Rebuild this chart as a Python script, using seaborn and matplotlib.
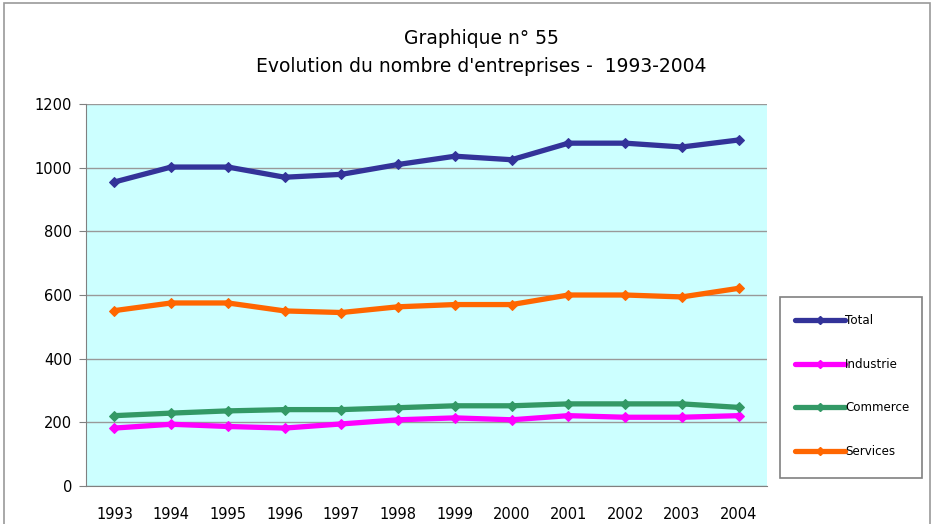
import seaborn as sns
from matplotlib import pyplot as plt
from matplotlib.patches import Rectangle
import numpy as np
import pandas as pd

years = [1993, 1994, 1995, 1996, 1997, 1998, 1999, 2000, 2001, 2002, 2003, 2004]
total = [955, 1002, 1002, 970, 979, 1010, 1036, 1025, 1077, 1077, 1065, 1087]
industrie = [182, 194, 187, 182, 195, 208, 214, 208, 221, 216, 216, 221]
commerce = [221, 229, 236, 240, 240, 246, 252, 252, 258, 258, 258, 247]
services = [551, 575, 575, 550, 545, 563, 570, 570, 600, 600, 594, 621]

series = ['Total', 'Industrie', 'Commerce', 'Services']
colors = ['#333399', '#FF00FF', '#339966', '#FF6600']

df = pd.DataFrame({'pos': list(range(len(years))) * 4,
                   'valeur': total + industrie + commerce + services,
                   'serie': np.repeat(series, len(years))})

sns.set_style('white')
plt.rcParams['font.family'] = ['DejaVu Sans']
plt.rcParams['text.color'] = 'black'

fig = plt.figure(figsize=(9.34, 5.24), dpi=100)
ax = fig.add_axes([0.0921, 0.0725, 0.7291, 0.729])
ax.set_facecolor('#CCFFFF')

sns.lineplot(data=df, x='pos', y='valeur', hue='serie', palette=dict(zip(series, colors)),
             hue_order=series, marker='D', markersize=5, linewidth=3.8, ax=ax, legend=False)
# diamonds outlined in the line colour
for line in ax.lines:
    line.set_markeredgecolor(line.get_color())

ax.set_xlim(-0.5, len(years) - 0.5)
ax.set_ylim(0, 1200)
ax.set_yticks(range(0, 1201, 200))
ax.yaxis.grid(True, color='#999999', linewidth=1)
ax.set_xticks(range(len(years)))
ax.set_xticklabels([str(y) for y in years])
ax.set_xticks(np.arange(-0.5, len(years)), minor=True)
ax.tick_params(axis='x', which='major', length=0, labelsize=10.5, pad=15, labelcolor='black')
ax.tick_params(axis='x', which='minor', length=4.5, color='#808080', direction='out')
ax.tick_params(axis='y', length=5, color='#808080', direction='out', labelsize=10.5, pad=5,
               left=True, labelcolor='black')
ax.set_xlabel('')
ax.set_ylabel('')
for s in ['top', 'right']:
    ax.spines[s].set_visible(False)
for s in ['left', 'bottom']:
    ax.spines[s].set_color('#808080')

# legend: entries without frame, box drawn separately
handles = [plt.Line2D([], [], color=c, lw=3.8, marker='D', markersize=4, markeredgecolor=c) for c in colors]
fig.legend(handles, series, bbox_to_anchor=(852 / 934, (524 - 386) / 524), loc='center',
           borderaxespad=0, frameon=False, handlelength=4.2, handletextpad=0,
           labelspacing=2.55, fontsize=8.6, borderpad=0, labelcolor='black')
fig.patches.append(Rectangle((780 / 934, (524 - 478) / 524), 142 / 934, 181 / 524,
                             transform=fig.transFigure, fill=False, edgecolor='#808080', linewidth=1.2))

fig.text(0.515, 0.927, 'Graphique n° 55', ha='center', va='center', fontsize=13.5, color='black')
fig.text(0.515, 0.873, "Evolution du nombre d'entreprises -  1993-2004", ha='center', va='center',
         fontsize=13.5, color='black')

fig.patches.append(Rectangle((0.004, -0.02), 0.992, 1.014, transform=fig.transFigure,
                             fill=False, edgecolor='#999999', linewidth=1.2))

fig.savefig('out.png', dpi=100)
